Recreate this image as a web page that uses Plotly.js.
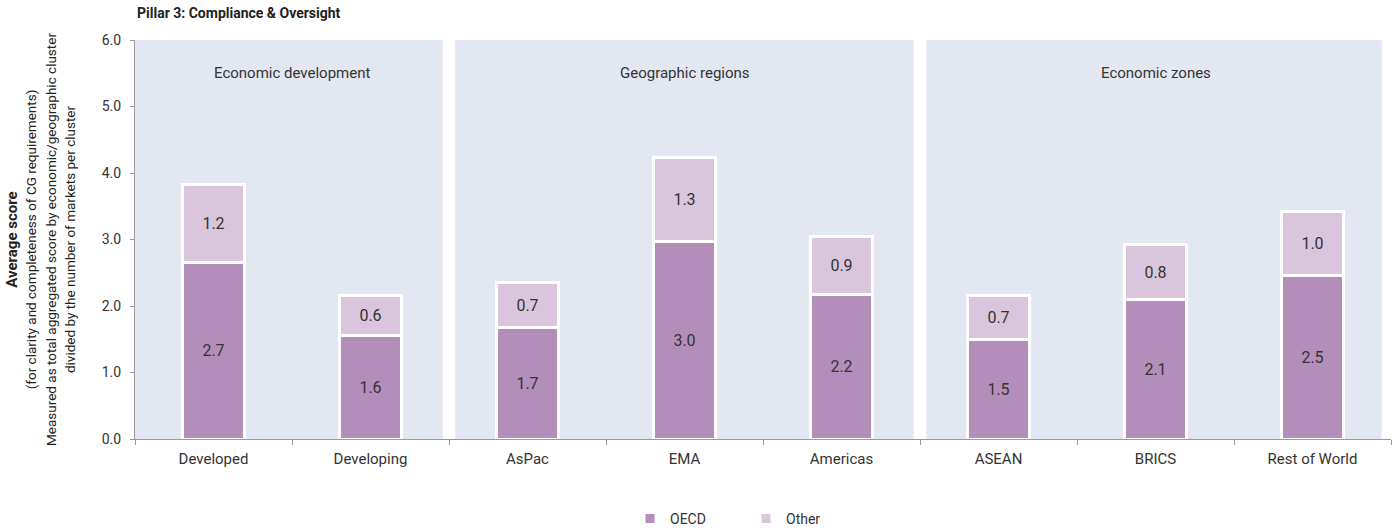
<!DOCTYPE html>
<html>
<head>
<meta charset="utf-8">
<script src="https://cdn.plot.ly/plotly-3.0.1.min.js"></script>
<style>html,body{margin:0;padding:0;background:#fff;}#chart{width:1397px;height:528px;}</style>
</head>
<body>
<div id="chart"></div>
<script>
const categories = ["Developed", "Developing", "AsPac", "EMA", "Americas", "ASEAN", "BRICS", "Rest of World"];
const oecdValues = [2.66, 1.56, 1.67, 2.97, 2.18, 1.49, 2.10, 2.46];
const otherValues = [1.17, 0.60, 0.68, 1.27, 0.86, 0.67, 0.82, 0.96];
const groupNames = ["Economic development", "Geographic regions", "Economic zones"];
const groupCenters = [0.5, 3, 6];
const groupSpans = [[-0.5, 1.46], [1.54, 4.46], [4.54, 7.44]];
const yTicks = [0, 1, 2, 3, 4, 5, 6];

const FONT = "Roboto, 'Liberation Sans', Arial, sans-serif";
const TXT = "#333333";

const traces = [
  {
    type: "bar", name: "OECD", x: categories, y: oecdValues,
    marker: {color: "#B38EBA", line: {color: "#ffffff", width: 3}},
    width: 0.4,
    texttemplate: "%{y:.1f}", textposition: "inside", insidetextanchor: "middle",
    textangle: 0, constraintext: "none",
    textfont: {family: FONT, size: 16, color: TXT},
    hoverinfo: "none"
  },
  {
    type: "bar", name: "Other", x: categories, y: otherValues,
    marker: {color: "#D9C6DC", line: {color: "#ffffff", width: 3}},
    width: 0.4,
    texttemplate: "%{y:.1f}", textposition: "inside", insidetextanchor: "middle",
    textangle: 0, constraintext: "none",
    textfont: {family: FONT, size: 16, color: TXT},
    hoverinfo: "none"
  }
];

const shapes = groupSpans.map(s => ({
  type: "rect", xref: "x", yref: "y", x0: s[0], x1: s[1], y0: 0, y1: 6,
  fillcolor: "#E3E7F1", line: {width: 0}, layer: "below"
}));

const annotations = groupNames.map((g, i) => ({
  text: g, x: groupCenters[i], y: 5.5, xref: "x", yref: "y",
  showarrow: false, font: {family: FONT, size: 15, color: TXT}
}));

const layout = {
  width: 1397, height: 528,
  margin: {l: 135, r: 6, t: 40, b: 89},
  paper_bgcolor: "#ffffff", plot_bgcolor: "#ffffff",
  barmode: "stack",
  font: {family: FONT, color: TXT},
  title: {
    text: "<b>Pillar 3: Compliance & Oversight</b>",
    x: 137 / 1397, xanchor: "left", xref: "container",
    y: 1 - 13 / 528, yanchor: "middle", yref: "container",
    font: {family: FONT, size: 14, color: "#222222"}
  },
  xaxis: {
    type: "category", range: [-0.5, 7.5],
    tickson: "boundaries", ticks: "outside", ticklen: 5, tickcolor: "#999999",
    showline: true, linecolor: "#999999", linewidth: 1,
    showgrid: false, zeroline: false,
    ticklabelstandoff: 6,
    tickfont: {family: FONT, size: 15, color: TXT}
  },
  yaxis: {
    range: [0, 6], tickvals: yTicks, tickformat: ".1f",
    ticks: "outside", ticklen: 4, tickcolor: "#999999",
    showline: true, linecolor: "#999999", linewidth: 1,
    showgrid: false, zeroline: false,
    ticklabelstandoff: 6,
    tickfont: {family: FONT, size: 14, color: TXT},
    title: {
      text: "<b>Average score</b><br><span style=\"font-size:13.5px\">(for clarity and completeness of CG requirements)</span><br><span style=\"font-size:13.5px\">Measured as total aggregated score by economic/geographic cluster</span><br><span style=\"font-size:13.5px\">divided by the number of markets per cluster</span>",
      font: {family: FONT, size: 15, color: "#222222"},
      standoff: 22
    }
  },
  showlegend: true,
  legend: {
    orientation: "h", xref: "container", x: 630 / 1397, xanchor: "left",
    yref: "container", y: 1 - 519 / 528, yanchor: "middle",
    font: {family: FONT, size: 14, color: TXT},
    traceorder: "normal", itemwidth: 30, entrywidth: 71
  },
  shapes: shapes,
  annotations: annotations
};

Plotly.newPlot("chart", traces, layout, {displayModeBar: false, staticPlot: true});
</script>
</body>
</html>
